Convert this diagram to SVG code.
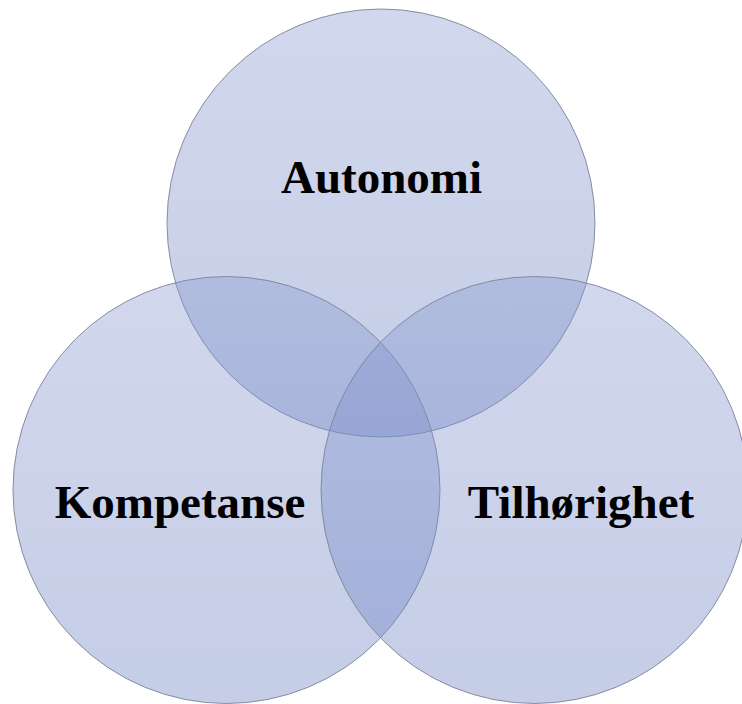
<svg xmlns="http://www.w3.org/2000/svg" width="742" height="704" viewBox="0 0 742 704">
  <defs>
    <linearGradient id="g" x1="0" y1="0" x2="0" y2="1">
      <stop offset="0" stop-color="#8798cf"/>
      <stop offset="1" stop-color="#667cc0"/>
    </linearGradient>
    <style>
      .c { fill: url(#g); fill-opacity: 0.38; stroke: #7d8398; stroke-width: 1; stroke-opacity: 0.9; }
      .t { font-family: "Liberation Serif", "Times New Roman", serif; font-weight: bold; font-size: 47px; fill: #000; text-anchor: middle; }
    </style>
  </defs>
  <rect width="742" height="704" fill="#ffffff"/>
  <g id="autonomi">
    <circle class="c" cx="381" cy="223" r="214"/>
  </g>
  <g id="kompetanse">
    <circle class="c" cx="226.5" cy="490" r="213.5"/>
  </g>
  <g id="tilhorighet">
    <circle class="c" cx="534.5" cy="490" r="213.5"/>
  </g>
  <g id="labels">
    <text class="t" x="381.5" y="193">Autonomi</text>
    <text class="t" x="180" y="518">Kompetanse</text>
    <text class="t" x="581" y="518">Tilhørighet</text>
  </g>
</svg>
